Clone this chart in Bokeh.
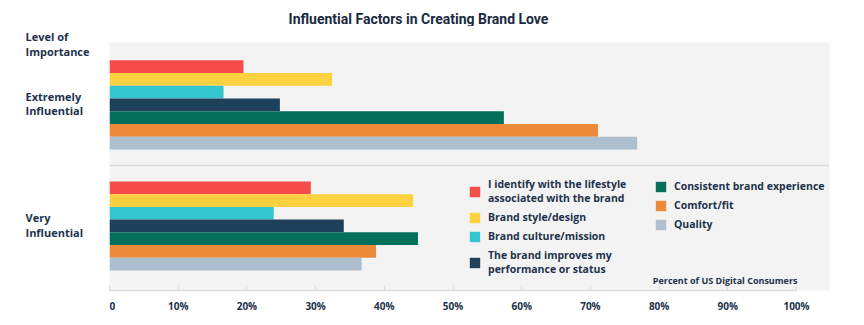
from bokeh.plotting import figure
from bokeh.layouts import column, row
from bokeh.models import ColumnDataSource, Legend, LegendItem, Label, FixedTicker, Range1d
from bokeh.core.properties import value
from bokeh.embed import file_html
from bokeh.resources import INLINE

title_text = "Influential Factors in Creating Brand Love"
axis_caption = "Level of\nImportance"
source_note = "Percent of US Digital Consumers"
levels = ["Extremely\nInfluential", "Very\nInfluential"]
series = [
    "I identify with the lifestyle\nassociated with the brand",
    "Brand style/design",
    "Brand culture/mission",
    "The brand improves my\nperformance or status",
    "Consistent brand experience",
    "Comfort/fit",
    "Quality",
]
colors = ["#F64C4A", "#FDD13F", "#33C6D1", "#1F405A", "#02705B", "#EB8A38", "#AEC0D0"]
extremely = [19.5, 32.4, 16.6, 24.8, 57.4, 71.1, 76.8]
very = [29.3, 44.2, 23.9, 34.1, 44.9, 38.8, 36.7]
x_ticks = [0, 10, 20, 30, 40, 50, 60, 70, 80, 90, 100]
x_tick_labels = ["0", "10%", "20%", "30%", "40%", "50%", "60%", "70%", "80%", "90%", "100%"]

TEXT = "#22324A"
TITLE_COLOR = "#1A2A40"
LINE = "#DCDCDC"
FONT = "Open Sans"
TITLE_FONT = "Liberation Sans Narrow, Roboto"

W, H = 864, 325
TITLE_H = 26
LEFT_W = 109
TOP, BOTTOM, RIGHT = 16, 35, 35
FRAME_H = H - TITLE_H - TOP - BOTTOM
FRAME_W = W - LEFT_W - RIGHT

n = len(series)
pad_bottom, gap, pad_top = 1.57, 2.52, 1.4
y_max = pad_bottom + 2 * n + gap + pad_top
group_base = [pad_bottom + n + gap, pad_bottom]  # Extremely (top), Very (bottom)
sep_y = pad_bottom + n + gap / 2
ppu = FRAME_H / y_max

# ---- main chart ----
p = figure(title=None, frame_width=FRAME_W, frame_height=FRAME_H, output_backend="svg",
           toolbar_location=None,
           x_range=Range1d(0, 104.8), y_range=Range1d(0, y_max), y_axis_location=None,
           min_border_left=0, min_border_right=RIGHT, min_border_top=TOP, min_border_bottom=BOTTOM)
p.background_fill_color = "#F3F3F3"
p.border_fill_color = "white"
p.outline_line_color = None

renderers = []
for i, name in enumerate(series):
    ys = [group_base[0] + (n - 1 - i) + 0.5, group_base[1] + (n - 1 - i) + 0.5]
    src = ColumnDataSource(dict(y=ys, right=[extremely[i], very[i]]))
    r = p.hbar(y="y", left=0, right="right", height=1.0, source=src,
               fill_color=colors[i], line_color=None)
    renderers.append(r)

p.xgrid.ticker = FixedTicker(ticks=[0])
p.xgrid.grid_line_color = LINE
p.xgrid.grid_line_width = 2
p.ygrid.ticker = FixedTicker(ticks=[sep_y, y_max])
p.ygrid.grid_line_color = LINE
p.ygrid.grid_line_width = 1.5

xa = p.xaxis[0]
xa.ticker = FixedTicker(ticks=x_ticks)
xa.major_label_overrides = {t: l for t, l in zip(x_ticks, x_tick_labels)}
xa.bounds = (0, 100)
xa.axis_line_color = LINE
xa.axis_line_width = 1.5
xa.major_tick_line_color = LINE
xa.major_tick_in = 5
xa.major_tick_out = 0
xa.minor_tick_line_color = None
xa.major_label_text_font = FONT
xa.major_label_text_font_style = "bold"
xa.major_label_text_font_size = "10px"
xa.major_label_text_color = TEXT
xa.major_label_standoff = 8


def make_legend(items, loc):
    return Legend(items=items, location=loc, orientation="vertical",
                  glyph_width=13, glyph_height=13, label_standoff=7, spacing=5,
                  padding=0, margin=0, background_fill_alpha=0, border_line_alpha=0,
                  label_text_font=FONT, label_text_font_size="10.5px",
                  label_text_font_style="bold", label_text_color=TEXT,
                  label_text_line_height=1.4, label_height=13)


items = [LegendItem(label=s, renderers=[r]) for s, r in zip(series, renderers)]
p.add_layout(make_legend(items[:4], (359, 14)), "center")
p.add_layout(make_legend(items[4:], (545, 59)), "center")

p.add_layout(Label(x=688, y=10, x_units="screen", y_units="screen", text=source_note,
                   text_align="right", text_baseline="middle", text_font=FONT,
                   text_font_style="bold", text_font_size="9px", text_color=TEXT))

# ---- title strip (above the chart) ----
t = figure(title=None, frame_width=W - LEFT_W, frame_height=TITLE_H, output_backend="svg",
           toolbar_location=None,
           x_range=Range1d(LEFT_W, W), y_range=Range1d(0, TITLE_H),
           x_axis_location=None, y_axis_location=None, min_border=0)
t.outline_line_color = None
t.grid.visible = False
t.text(x=[418], y=[TITLE_H - 18], text=[title_text], text_align="center", text_baseline="middle",
       text_font=value(TITLE_FONT), text_font_style="bold", text_font_size="14px",
       text_color=TITLE_COLOR)

# ---- full-height left labels panel (same vertical scale as the chart) ----
left = figure(title=None, frame_width=LEFT_W, frame_height=H, output_backend="svg",
              toolbar_location=None,
              x_range=Range1d(0, LEFT_W),
              y_range=Range1d(-BOTTOM / ppu, y_max + (TOP + TITLE_H) / ppu),
              x_axis_location=None, y_axis_location=None,
              min_border=0)
left.outline_line_color = None
left.grid.visible = False
left.border_fill_color = "white"
left.background_fill_color = "white"
lab_y = [group_base[g] + n / 2 for g in range(len(levels))]
left.text(x=[25] * len(levels), y=lab_y, text=levels, text_align="left", text_baseline="middle",
          text_font=value(FONT), text_font_style="bold", text_font_size="11px",
          text_color=TEXT, text_line_height=0.95, y_offset=-1)
left.text(x=[25], y=[y_max - 2.5 / ppu], text=[axis_caption], text_align="left",
          text_baseline="middle", text_font=value(FONT), text_font_style="bold",
          text_font_size="11px", text_color=TEXT, text_line_height=0.95, y_offset=-1)

layout = row(left, column(t, p, spacing=0), spacing=0)
open("out.html", "w").write(file_html(layout, INLINE))
